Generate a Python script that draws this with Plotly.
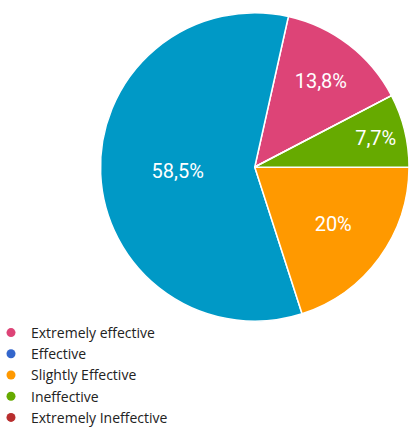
import plotly.graph_objects as go

categories = ["Extremely effective", "Effective", "Slightly Effective", "Ineffective", "Extremely Ineffective"]
responses = [9, 38, 13, 5, 0]
slice_colors = ["#DD4477", "#0099C6", "#FF9900", "#66AA00", "#B82E2E"]
legend_colors = ["#DD4477", "#3366CC", "#FF9900", "#66AA00", "#B82E2E"]

total = sum(responses)
labels_text = []
for v in responses:
    s = f"{v / total * 100:.1f}"
    if s.endswith(".0"):
        s = s[:-2]
    labels_text.append(s.replace(".", ",") + "%")

W, H = 409, 428

fig = go.Figure()
fig.add_trace(go.Pie(
    labels=categories,
    values=responses,
    text=labels_text,
    textinfo="text",
    sort=False,
    direction="counterclockwise",
    rotation=12.6,
    marker=dict(colors=slice_colors, line=dict(color="white", width=1.5)),
    textposition="inside",
    insidetextorientation="horizontal",
    textfont=dict(family="Roboto, Arial, sans-serif", size=20, color="white"),
    showlegend=False,
    hoverinfo="label+percent",
    domain=dict(x=[100.5 / W, 1.0], y=[1 - 322 / H, 1 - 12 / H]),
))

for name, col in zip(categories, legend_colors):
    fig.add_trace(go.Scatter(
        x=[None], y=[None], mode="markers", name=name,
        marker=dict(color=col, size=9, symbol="circle"),
        showlegend=True,
    ))

fig.update_layout(
    width=W, height=H,
    margin=dict(l=0, r=0, t=0, b=0, autoexpand=False),
    paper_bgcolor="white", plot_bgcolor="white",
    xaxis=dict(visible=False), yaxis=dict(visible=False),
    legend=dict(
        x=-9 / W, xanchor="left", y=1 - 317 / H, yanchor="top",
        font=dict(family="Open Sans, Noto Sans, sans-serif", size=14, color="#222222"),
        bgcolor="rgba(0,0,0,0)", itemclick=False, itemdoubleclick=False,
        tracegroupgap=0,
    ),
)

fig.write_html("out.html")
